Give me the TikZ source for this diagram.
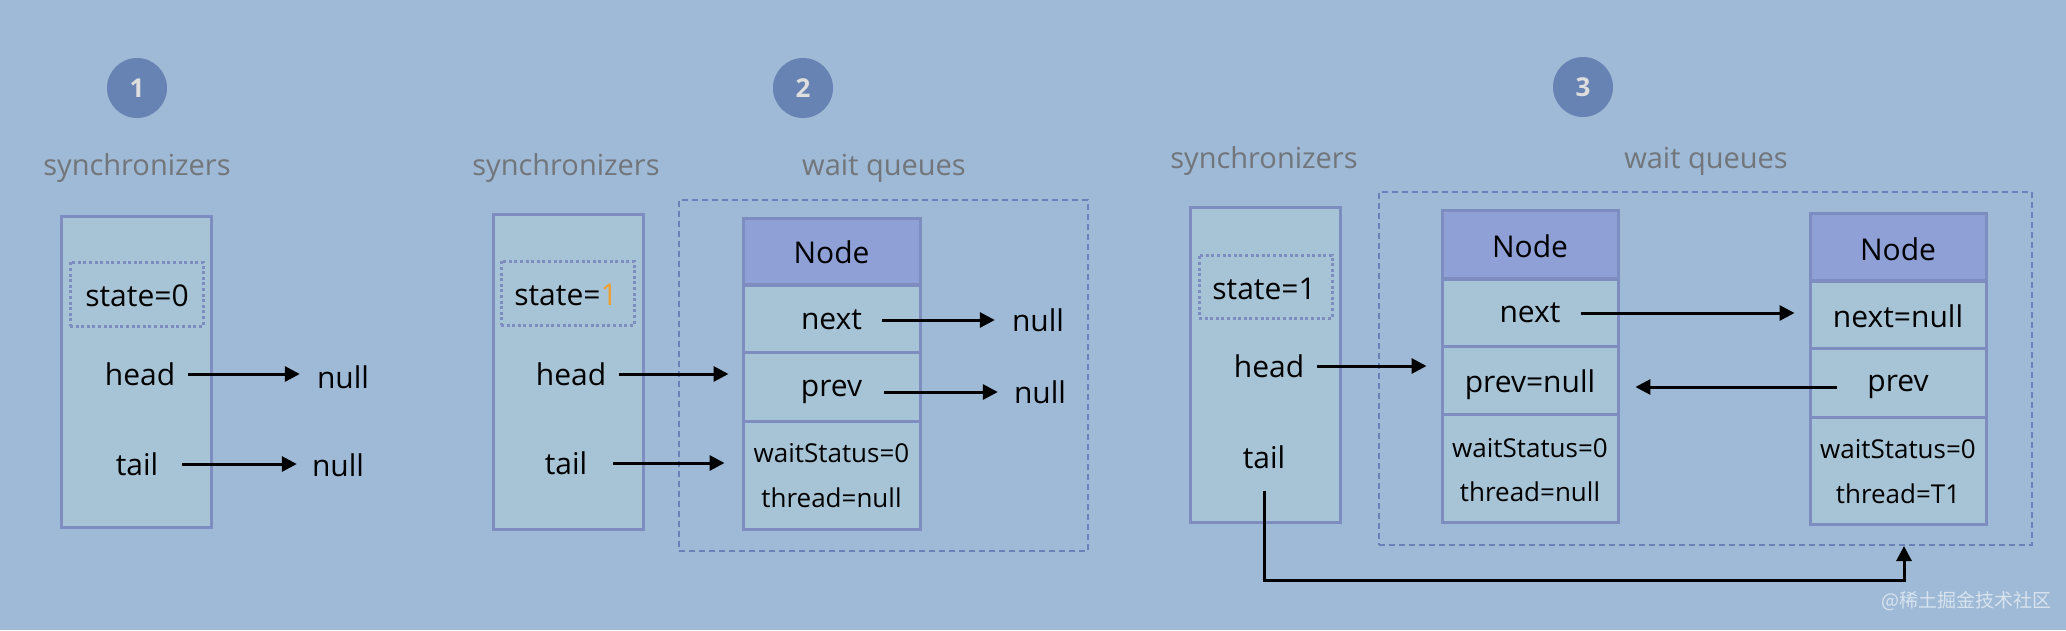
\documentclass[tikz,border=0pt]{standalone}
\usepackage{fontspec}
\setmainfont{Open Sans}
\newfontfamily\cjk{Noto Sans CJK SC}
\usetikzlibrary{arrows.meta,calc}
\definecolor{bgc}{HTML}{9EBAD6}
\definecolor{boxc}{HTML}{A7C4D6}
\definecolor{bordc}{HTML}{7D8DC0}
\definecolor{headc}{HTML}{8EA0D5}
\definecolor{circc}{HTML}{6783B3}
\definecolor{numtxt}{HTML}{DEDEDE}
\definecolor{graytxt}{HTML}{72757A}
\definecolor{dashc}{HTML}{6A80B8}
\definecolor{orangec}{HTML}{F0A030}
\begin{document}
\begin{tikzpicture}[x=1pt,y=-1pt,
  lbl/.style={font=\fontsize{30}{30}\selectfont, text=black, inner sep=0pt},
  sml/.style={font=\fontsize{26}{26}\selectfont, text=black, inner sep=0pt},
  ttl/.style={font=\fontsize{29}{29}\selectfont, text=graytxt, inner sep=0pt},
  numc/.style={circle, fill=circc, minimum size=60pt, inner sep=0pt, text=numtxt, font=\fontsize{26}{26}\selectfont\bfseries},
  sbox/.style={draw=bordc, line width=3pt, fill=boxc, inner sep=0pt},
  hbox/.style={draw=bordc, line width=3pt, fill=headc, inner sep=0pt},
  dotbox/.style={draw=bordc, line width=3pt, dash pattern=on 3pt off 2.6pt, inner sep=0pt},
  qbox/.style={draw=dashc, line width=2pt, dash pattern=on 6pt off 4pt, inner sep=0pt},
  arr/.style={line width=3pt, -{Triangle[length=15pt,width=15pt]}},
]
\fill[bgc] (0,0) rectangle (2066,630);
\useasboundingbox (0,0) rectangle (2066,630);

% ---------- panel 1 ----------
\node[numc] (c1) at (137,88) {1};
\node[ttl] (sy1) at (137,168) {synchronizers};
\node[sbox, minimum width=150pt, minimum height=311pt] (s1) at (136,371.5) {};
\node[dotbox, minimum width=133pt, minimum height=64pt] (d1) at (136.5,294) {};
\node[lbl] (st1) at (137,296) {state=0};
\node[lbl] (h1) at (140,374) {head};
\node[lbl] (hn1) at (343,377) {null};
\node[lbl] (t1) at (137,464) {tail};
\node[lbl] (tn1) at (338,465) {null};
\draw[arr, shorten <=13pt, shorten >=17pt] (h1.east) -- (h1.east -| hn1.west);
\draw[arr, shorten <=24pt, shorten >=15pt] (t1.east) -- (t1.east -| tn1.west);

% ---------- panel 2 ----------
\node[numc] (c2) at (803,88) {2};
\node[ttl] (sy2) at (566,168) {synchronizers};
\node[ttl] (wq2t) at (884,168) {wait queues};
\node[qbox, minimum width=409pt, minimum height=351pt] (q2) at (883.5,375.5) {};
\node[sbox, minimum width=150pt, minimum height=315pt] (s2) at (568,371.5) {};
\node[dotbox, minimum width=133pt, minimum height=64pt] (d2) at (567.5,293) {};
\node[lbl] (st2) at (566,295) {state=\textcolor{orangec}{1}};
\node[lbl] (h2) at (571,374) {head};
\node[lbl] (t2) at (566,463) {tail};
\node[hbox, minimum width=177pt, minimum height=66pt] (a2h) at (831.5,251) {};
\node[sbox, minimum width=177pt, minimum height=68pt] (a2n) at (831.5,318) {};
\node[sbox, minimum width=177pt, minimum height=69pt] (a2p) at (831.5,386.5) {};
\node[sbox, minimum width=177pt, minimum height=108pt] (a2w) at (831.5,475) {};
\draw[bordc, line width=3pt] (a2h.south west) -- (a2h.south east);
\node[lbl] (a2ht) at (831.5,252) {Node};
\node[lbl] (a2nt) at (831.5,320) {next};
\node[lbl] (a2pt) at (831.5,392) {prev};
\node[sml] (a2wt) at (831.5,453) {waitStatus=0};
\node[sml] (a2tt) at (831.5,498) {thread=null};
\node[lbl] (nn2) at (1038,320) {null};
\node[lbl] (pn2) at (1040,392) {null};
\draw[arr, shorten <=20pt, shorten >=17pt] (a2nt.east) -- (a2nt.east -| nn2.west);
\draw[arr, shorten <=22pt, shorten >=16pt] (a2pt.east) -- (a2pt.east -| pn2.west);
\draw[arr, shorten <=13pt, shorten >=13pt] (h2.east) -- (h2.east -| a2p.west);
\draw[arr, shorten <=26pt, shorten >=17pt] (t2.east) -- (t2.east -| a2w.west);

% ---------- panel 3 ----------
\node[numc] (c3) at (1583,87) {3};
\node[ttl] (sy3) at (1264,161) {synchronizers};
\node[ttl] (wq3t) at (1706,161) {wait queues};
\node[qbox, minimum width=653pt, minimum height=353pt] (q3) at (1705.5,368.5) {};
\node[sbox, minimum width=150pt, minimum height=315pt] (s3) at (1265,364.5) {};
\node[dotbox, minimum width=133pt, minimum height=63pt] (d3) at (1265.5,286.5) {};
\node[lbl] (st3) at (1264,289) {state=1};
\node[lbl] (h3) at (1269,366) {head};
\node[lbl] (t3) at (1264,457) {tail};
% node A
\node[hbox, minimum width=176pt, minimum height=68pt] (a3h) at (1530,244) {};
\node[sbox, minimum width=176pt, minimum height=68pt] (a3n) at (1530,312) {};
\node[sbox, minimum width=176pt, minimum height=68pt] (a3p) at (1530,380) {};
\node[sbox, minimum width=176pt, minimum height=108pt] (a3w) at (1530,468) {};
\draw[bordc, line width=3pt] (a3h.south west) -- (a3h.south east);
\node[lbl] (a3ht) at (1530,246) {Node};
\node[lbl] (a3nt) at (1530,313) {next};
\node[lbl] (a3pt) at (1530,385) {prev=null};
\node[sml] (a3wt) at (1530,448) {waitStatus=0};
\node[sml] (a3tt) at (1530,492) {thread=null};
% node B
\node[hbox, minimum width=176pt, minimum height=67pt] (b3h) at (1898,246.5) {};
\node[sbox, minimum width=176pt, minimum height=68pt] (b3n) at (1898,314) {};
\node[sbox, minimum width=176pt, minimum height=69pt] (b3p) at (1898,382.5) {};
\node[sbox, minimum width=176pt, minimum height=107pt] (b3w) at (1898,470.5) {};
\draw[bordc, line width=3pt] (b3h.south west) -- (b3h.south east);
\node[lbl] (b3ht) at (1898,249) {Node};
\node[lbl] (b3nt) at (1898,316) {next=null};
\node[lbl] (b3pt) at (1898,387) {prev};
\node[sml] (b3wt) at (1898,449) {waitStatus=0};
\node[sml] (b3tt) at (1898,494) {thread=T1};
% arrows
\draw[arr, shorten <=13pt, shorten >=14pt] (h3.east) -- (h3.east -| a3p.west);
\draw[arr, shorten <=20pt, shorten >=14pt] (a3nt.east) -- (a3nt.east -| b3n.west);
\draw[arr, shorten <=30pt, shorten >=40pt] (b3pt.west) -- (b3pt.west -| a3pt.east);
\coordinate (tc) at (1904,580);
\draw[arr, shorten <=22pt] (t3.south) |- (tc) -- (tc |- q3.south);

\node[font=\cjk\fontsize{19}{19}\selectfont, text=white, opacity=0.6, inner sep=0pt] (wm) at (1966,601) {@稀土掘金技术社区};
\end{tikzpicture}
\end{document}
